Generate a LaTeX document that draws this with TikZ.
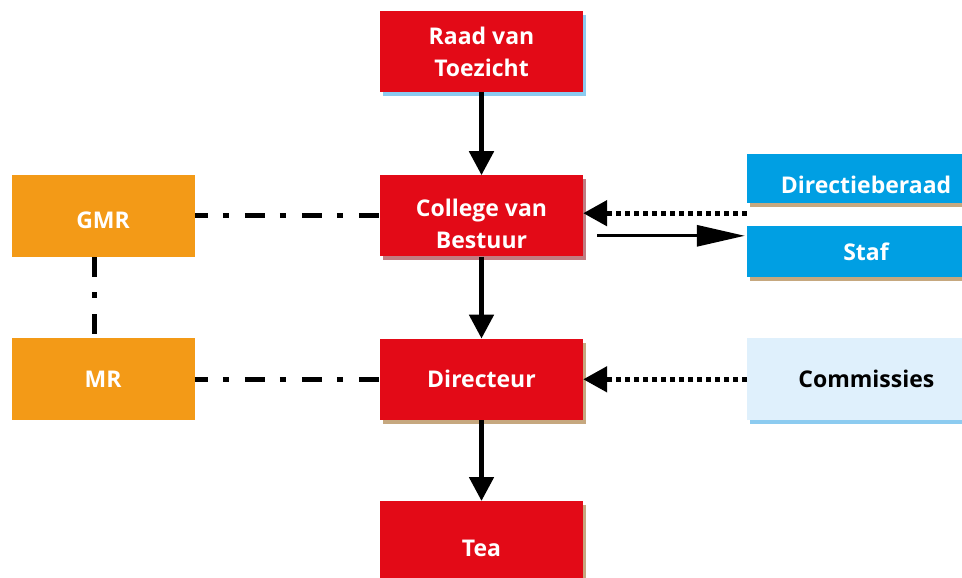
\documentclass[tikz,border=0pt]{standalone}
\usepackage{fontspec}
\setmainfont{Open Sans}
\usepackage{xcolor}
\usetikzlibrary{positioning, arrows.meta}

\definecolor{orgred}{HTML}{E30A17}
\definecolor{orgorange}{HTML}{F39A17}
\definecolor{orgblue}{HTML}{009FE3}
\definecolor{orglight}{HTML}{DFF0FC}
\definecolor{shtan}{HTML}{C6A87F}
\definecolor{shrose}{HTML}{C27C82}
\definecolor{shblue}{HTML}{8CCBF0}

\begin{document}
\begin{tikzpicture}[x=1pt, y=-1pt, node distance=82pt,
    box/.style={rectangle, inner sep=0pt, align=center, text=white,
        font=\fontsize{23}{32}\selectfont\bfseries},
    lowtext/.style 2 args={label={[box, yshift=-#1]center:#2}},
    shadowed/.style={preaction={fill=#1, draw=none,
        transform canvas={xshift=3pt, yshift=-4pt}}},
    redbox/.style={box, fill=orgred, minimum width=203pt, minimum height=81pt},
    sidebox/.style={box, fill=orgorange, minimum width=183pt, minimum height=82pt},
    bluebox/.style={box, fill=orgblue, minimum width=238pt, shadowed=shtan},
    down/.style={line width=5pt, -{Triangle[width=24pt, length=24pt]}},
    dotarrow/.style={line width=5pt, dash pattern=on 5pt off 4pt,
        -{Triangle[width=25pt, length=24pt]}},
    dashdot/.style={line width=5pt, dash pattern=on 20pt off 15pt on 6pt off 16pt}]
    \useasboundingbox (0,0) rectangle (962,578);

    % Nodes
    \node[redbox, shadowed=shblue] (raad) at (481.5,51.5) {Raad van\\Toezicht};
    \node[redbox, shadowed=shrose, lowtext={8pt}{College van\\Bestuur}, below=83pt of raad] (college) {};
    \node[redbox, shadowed=shtan, below=of college] (directeur) {Directeur};
    \node[redbox, shadowed=shtan, minimum height=94pt, below=81pt of directeur] (tea) {Tea};
    \node[sidebox, lowtext={4pt}{GMR}, left=185pt of college] (gmr) {};
    \node[sidebox, left=185pt of directeur] (mr) {MR};
    \node[bluebox, lowtext={6pt}{Directieberaad}, minimum height=49pt] (dirberaad) at (866,178.5) {};
    \node[bluebox, minimum height=51pt] (staf) at (866,251.5) {Staf};
    \node[box, fill=orglight, text=black, minimum width=238pt, minimum height=82pt,
        shadowed=shblue, right=164pt of directeur] (commissies) {Commissies};

    % Connections
    \draw[down] (raad) -- (college);
    \draw[down] (college) -- (directeur);
    \draw[down] (directeur) -- (tea);
    \draw[dotarrow] ([yshift=-10pt]dirberaad.south west) -- ([yshift=-10pt]dirberaad.south west -| college.east);
    \draw[dotarrow] (commissies.west) -- (directeur.east);
    \draw[line width=3pt, -{Triangle[width=21pt, length=48pt]}, shorten <=14pt, shorten >=2pt]
        ([yshift=-10pt]staf.north west -| college.east) -- ([yshift=-10pt]staf.north west);
    \draw[dashdot, dash phase=7pt] (gmr.east) -- (college.west);
    \draw[dashdot, dash phase=7pt] (mr.east) -- (directeur.west);
    \draw[dashdot] ([xshift=-9pt]gmr.south) -- ([xshift=-9pt]mr.north);
\end{tikzpicture}
\end{document}
